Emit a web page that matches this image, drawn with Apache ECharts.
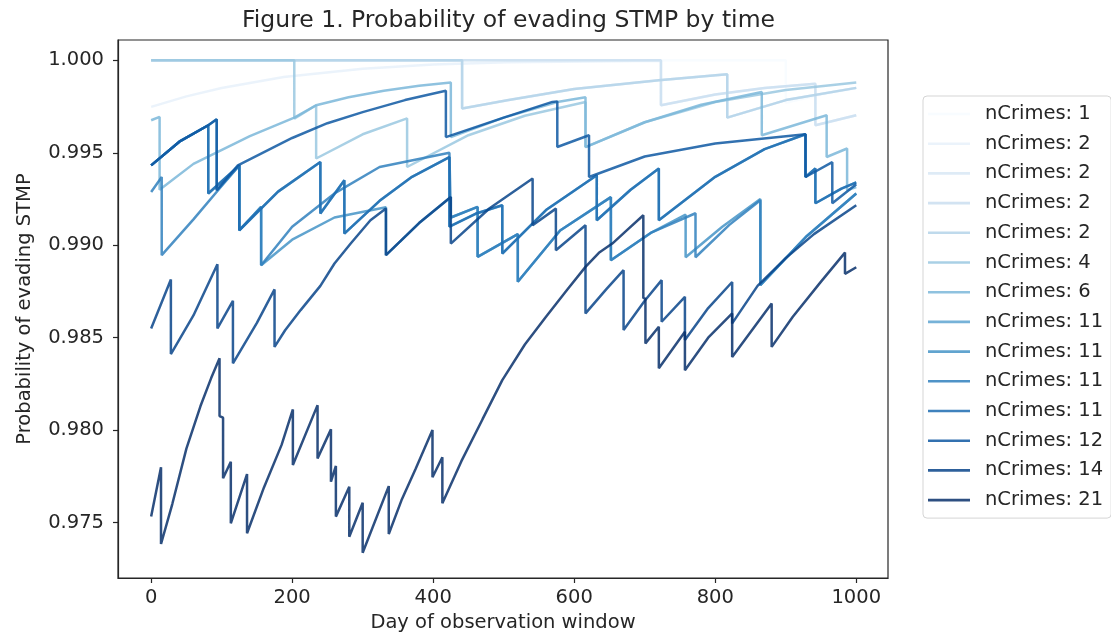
<!DOCTYPE html>
<html><head><meta charset="utf-8">
<script src="https://cdn.jsdelivr.net/npm/echarts@6/dist/echarts.min.js"></script>
<style>html,body{margin:0;padding:0;background:#fff}#chart{width:1111px;height:640px}</style>
</head><body><div id="chart"></div>
<script>
const titleText = 'Figure 1. Probability of evading STMP by time';
const xName = 'Day of observation window';
const yName = 'Probability of evading STMP';
const legendLabels = ['nCrimes: 1','nCrimes: 2','nCrimes: 2','nCrimes: 2','nCrimes: 2','nCrimes: 4','nCrimes: 6','nCrimes: 11','nCrimes: 11','nCrimes: 11','nCrimes: 11','nCrimes: 12','nCrimes: 14','nCrimes: 21'];
const seriesColors = ['#f7fbff','#e8f1fa','#d8e7f5','#cadef0','#b4d3e9','#9ac8e0','#7bb7d9','#5ea5d1','#4594c7','#3080bd','#1d6cb1','#0e58a2','#084489','#08306b'];
const xTickValues = [0,200,400,600,800,1000];
const yTickValues = [0.975,0.980,0.985,0.990,0.995,1.000];

// [day, probability]
const s01 = [[0,1.0],[900,1.0],[900,0.9977],[950,0.99815],[1000,0.9985]];
const s02 = [[0,0.99748],[50,0.99805],[100,0.99850],[188,0.99910],[300,0.99955],[400,0.99978],[505,0.99990],[723,0.99998],[723,0.99757],[800,0.99815],[870,0.99850],[942,0.99874],[942,0.99649],[1000,0.99703]];
const s03 = [[0,1.0],[441,1.0],[441,0.99739],[505,0.99784],[600,0.99845],[720,0.99892],[817,0.99925],[817,0.99690],[900,0.99785],[1000,0.99851]];
const s04 = [[0,1.0],[723,1.0],[723,0.99757],[800,0.99815],[870,0.99850],[942,0.99874],[942,0.99649],[1000,0.99703]];
const s05 = [[0,1.0],[441,1.0],[441,0.99739],[505,0.99784],[600,0.99845],[720,0.99892],[817,0.99925],[817,0.99690],[900,0.99785],[1000,0.99851]];
const s06 = [[0,1.0],[203,1.0],[203,0.99685],[234,0.99757],[234,0.99469],[300,0.99600],[363,0.99686],[363,0.99423],[450,0.99595],[530,0.99700],[616,0.99775],[616,0.99531],[700,0.99665],[800,0.99775],[900,0.99840],[1000,0.99880]];
const s07 = [[0,0.99676],[12,0.99694],[12,0.99300],[60,0.99440],[140,0.99590],[203,0.99690],[234,0.99757],[280,0.99800],[330,0.99835],[380,0.99862],[425,0.99880],[425,0.99585],[500,0.99690],[576,0.99775],[616,0.99800],[616,0.99531],[700,0.99665],[780,0.99760],[866,0.99829],[866,0.99595],[958,0.99703],[958,0.99477],[987,0.99523],[987,0.99297],[1000,0.99315]];
const s08 = [[0,0.99432],[40,0.99560],[81,0.99649],[81,0.99280],[125,0.99432],[125,0.99081],[180,0.99290],[240,0.99450],[240,0.99171],[274,0.99351],[274,0.99063],[324,0.99240],[370,0.99370],[423,0.99477],[423,0.99100],[460,0.99170],[498,0.99216],[498,0.98955],[560,0.99190],[632,0.99378],[632,0.99135],[680,0.99300],[720,0.99415],[720,0.99135],[800,0.99370],[870,0.99520],[928,0.99600],[928,0.99369],[942,0.99415],[942,0.99227],[979,0.99306],[1000,0.99340]];
const s09 = [[0,0.99432],[40,0.99560],[81,0.99649],[93,0.99681],[93,0.99297],[125,0.99432],[125,0.99081],[156,0.99207],[156,0.98892],[200,0.99030],[260,0.99150],[333,0.99205],[333,0.98946],[380,0.99120],[425,0.99261],[425,0.99150],[463,0.99207],[463,0.98937],[520,0.99060],[520,0.98802],[580,0.99080],[652,0.99260],[652,0.98919],[710,0.99070],[758,0.99165],[758,0.98935],[810,0.99100],[864,0.99250],[864,0.98784],[930,0.99050],[1000,0.99280]];
const s10 = [[0,0.99288],[15,0.99369],[15,0.98946],[60,0.99140],[100,0.99320],[125,0.99432],[125,0.99081],[156,0.99207],[156,0.98892],[200,0.99100],[260,0.99280],[324,0.99423],[423,0.99500],[425,0.99500],[425,0.99150],[463,0.99207],[463,0.98937],[520,0.99060],[520,0.98802],[580,0.99080],[652,0.99260],[652,0.98919],[710,0.99070],[772,0.99173],[772,0.98935],[820,0.99110],[864,0.99243],[864,0.98784],[930,0.99050],[1000,0.99280]];
const s11 = [[0,0.99432],[40,0.99560],[81,0.99649],[81,0.99280],[125,0.99432],[125,0.99081],[180,0.99290],[240,0.99450],[240,0.99171],[274,0.99351],[274,0.99063],[324,0.99240],[370,0.99370],[423,0.99477],[423,0.99100],[460,0.99170],[498,0.99216],[498,0.98955],[560,0.99190],[632,0.99378],[632,0.99135],[680,0.99300],[720,0.99415],[720,0.99135],[800,0.99370],[870,0.99520],[928,0.99600],[928,0.99369],[942,0.99415],[942,0.99227],[979,0.99306],[1000,0.99340]];
const s12 = [[0,0.99432],[40,0.99560],[81,0.99649],[93,0.99681],[93,0.99297],[123,0.99432],[200,0.99580],[250,0.99660],[300,0.99720],[360,0.99785],[410,0.99829],[418,0.99835],[418,0.99585],[500,0.99690],[569,0.99775],[576,0.99778],[576,0.99531],[621,0.99595],[621,0.99369],[700,0.99480],[800,0.99550],[928,0.99600],[928,0.99369],[966,0.99449],[966,0.99227],[1000,0.99330]];
const s13 = [[0,0.98550],[28,0.98815],[28,0.98411],[60,0.98620],[94,0.98897],[94,0.98550],[116,0.98699],[116,0.98361],[150,0.98580],[175,0.98761],[175,0.98450],[190,0.98540],[212,0.98649],[240,0.98780],[260,0.98901],[283,0.99009],[311,0.99135],[333,0.99198],[333,0.98946],[380,0.99120],[425,0.99261],[425,0.99009],[480,0.99200],[541,0.99361],[541,0.99108],[574,0.99198],[574,0.98973],[616,0.99108],[616,0.98631],[645,0.98760],[670,0.98865],[670,0.98541],[700,0.98700],[724,0.98811],[724,0.98586],[757,0.98721],[757,0.98487],[790,0.98660],[824,0.98801],[824,0.98577],[860,0.98780],[900,0.98930],[940,0.99060],[1000,0.99216]];
const s14 = [[0,0.97532],[14,0.97799],[14,0.97384],[30,0.97600],[50,0.97900],[70,0.98130],[85,0.98280],[97,0.98389],[97,0.98076],[102,0.98067],[102,0.97740],[113,0.97829],[113,0.97496],[136,0.97762],[136,0.97442],[160,0.97690],[185,0.97920],[201,0.98112],[201,0.97811],[236,0.98135],[236,0.97847],[255,0.98004],[255,0.97721],[262,0.97806],[262,0.97532],[281,0.97694],[281,0.97423],[300,0.97607],[300,0.97337],[337,0.97697],[337,0.97438],[355,0.97620],[375,0.97790],[399,0.98000],[399,0.97745],[413,0.97853],[413,0.97604],[440,0.97832],[470,0.98059],[498,0.98270],[530,0.98463],[560,0.98613],[590,0.98759],[616,0.98883],[635,0.98959],[654,0.99009],[676,0.99086],[698,0.99162],[698,0.98715],[701,0.98710],[701,0.98469],[720,0.98559],[720,0.98334],[757,0.98532],[757,0.98324],[790,0.98500],[824,0.98631],[824,0.98396],[880,0.98685],[880,0.98450],[910,0.98613],[950,0.98803],[984,0.98960],[984,0.98845],[1000,0.98881]];

const allSeries = [s01,s02,s03,s04,s05,s06,s07,s08,s09,s10,s11,s12,s13,s14];

const FONT = 'DejaVu Sans';
const TXT = '#262626';
const chart = echarts.init(document.getElementById('chart'), null, {renderer: 'canvas'});
chart.setOption({
  animation: false,
  backgroundColor: '#ffffff',
  title: {
    text: titleText, left: 503.5, top: 4, textAlign: 'center',
    textStyle: {fontFamily: FONT, fontSize: 23.5, fontWeight: 'normal', color: TXT}
  },
  grid: {left: 118, right: 223, top: 40, bottom: 62, show: true, borderColor: '#262626', borderWidth: 1.2, backgroundColor: 'transparent'},
  legend: {
    orient: 'vertical', left: 923, top: 96,
    padding: [8, 8, 8, 5],
    borderColor: '#d5d5d5', borderWidth: 1, borderRadius: 4, backgroundColor: '#fff',
    icon: 'rect', itemWidth: 42, itemHeight: 2.6, itemGap: 9.7,
    selectedMode: false,
    textStyle: {fontFamily: FONT, fontSize: 19.5, color: TXT, lineHeight: 20, padding: [0, 0, 0, 10]},
    formatter: function (name) { return legendLabels[parseInt(name.slice(1), 10)]; },
    data: allSeries.map(function (_, i) { return 's' + i; })
  },
  xAxis: {
    type: 'value', min: -47, max: 1045,
    name: xName, nameLocation: 'middle', nameGap: 35,
    nameTextStyle: {fontFamily: FONT, fontSize: 19.5, color: TXT},
    axisLine: {show: true, onZero: false, lineStyle: {color: '#262626', width: 1.2}},
    axisTick: {show: true, length: 5, customValues: xTickValues, lineStyle: {color: '#262626', width: 1.2}},
    axisLabel: {customValues: xTickValues, margin: 10, fontFamily: FONT, fontSize: 19.5, color: TXT,
      formatter: function (v) { return String(Math.round(v)); }},
    splitLine: {show: false}
  },
  yAxis: {
    type: 'value', min: 0.972, max: 1.0011,
    name: yName, nameLocation: 'middle', nameGap: 83, nameRotate: 90,
    nameTextStyle: {fontFamily: FONT, fontSize: 19.5, color: TXT},
    axisLine: {show: true, onZero: false, lineStyle: {color: '#262626', width: 1.2}},
    axisTick: {show: true, length: 5, customValues: yTickValues, lineStyle: {color: '#262626', width: 1.2}},
    axisLabel: {customValues: yTickValues, margin: 14, fontFamily: FONT, fontSize: 19.5, color: TXT,
      formatter: function (v) { return Number(v).toFixed(3); }},
    splitLine: {show: false}
  },
  series: allSeries.map(function (d, i) {
    return {
      name: 's' + i, type: 'line', data: d, showSymbol: false, symbol: 'none', silent: true,
      color: seriesColors[i],
      itemStyle: {color: seriesColors[i], opacity: 0.85},
      lineStyle: {color: seriesColors[i], width: 2.5, opacity: 0.85},
      z: 2 + i
    };
  })
});
</script>
</body></html>
